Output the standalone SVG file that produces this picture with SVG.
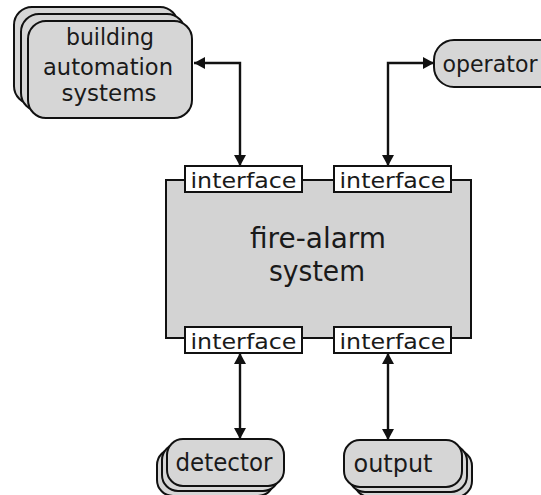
<svg xmlns="http://www.w3.org/2000/svg" width="541" height="495" viewBox="0 0 541 495">
<style>
.sh{fill:#d6d6d6;stroke:#111;stroke-width:2}
.main{fill:#d3d3d3;stroke:#111;stroke-width:2}
.if{fill:#fff;stroke:#111;stroke-width:2}
.t{font-family:"DejaVu Sans",Verdana,sans-serif;fill:#1a1a1a;text-anchor:middle}
.c{fill:none;stroke:#111;stroke-width:2.4}
</style>
<defs>
<marker id="ah" viewBox="0 0 11 12" refX="11" refY="6" markerWidth="11" markerHeight="12" markerUnits="userSpaceOnUse" orient="auto-start-reverse">
<path d="M0,0 L11,6 L0,12 z" fill="#111"/>
</marker>
</defs>
<rect width="541" height="495" fill="#fff"/>
<g id="connectors">
<path class="c" d="M194,63 H240 V166" marker-start="url(#ah)" marker-end="url(#ah)"/>
<path class="c" d="M434,63 H388 V166" marker-start="url(#ah)" marker-end="url(#ah)"/>
<path class="c" d="M240,353 V439" marker-start="url(#ah)" marker-end="url(#ah)"/>
<path class="c" d="M388,353 V440" marker-start="url(#ah)" marker-end="url(#ah)"/>
</g>
<g id="building-automation-systems">
<rect class="sh" x="14" y="7" width="164" height="97" rx="18"/>
<rect class="sh" x="21" y="14" width="164" height="97" rx="18"/>
<rect class="sh" x="28" y="21" width="164" height="97" rx="18"/>
<text class="t" font-size="23" x="110" y="45" textLength="88" lengthAdjust="spacingAndGlyphs">building</text>
<text class="t" font-size="23" x="108" y="75" textLength="130" lengthAdjust="spacingAndGlyphs">automation</text>
<text class="t" font-size="23" x="109" y="101" textLength="95" lengthAdjust="spacingAndGlyphs">systems</text>
</g>
<g id="operator">
<rect class="sh" x="434" y="40" width="130" height="47" rx="20"/>
<text class="t" font-size="23" x="490" y="72" textLength="95" lengthAdjust="spacingAndGlyphs">operator</text>
</g>
<g id="fire-alarm-system">
<rect class="main" x="166" y="180" width="305" height="158"/>
<text class="t" font-size="28" x="318" y="248" textLength="136" lengthAdjust="spacingAndGlyphs">fire-alarm</text>
<text class="t" font-size="28" x="317" y="281" textLength="96" lengthAdjust="spacingAndGlyphs">system</text>
</g>
<g id="interface-top-left">
<rect class="if" x="185" y="166" width="117" height="26"/>
<text class="t" font-size="22" x="243.5" y="188" textLength="106" lengthAdjust="spacingAndGlyphs">interface</text>
</g>
<g id="interface-top-right">
<rect class="if" x="334" y="166" width="117" height="26"/>
<text class="t" font-size="22" x="392.5" y="188" textLength="106" lengthAdjust="spacingAndGlyphs">interface</text>
</g>
<g id="interface-bottom-left">
<rect class="if" x="185" y="327" width="117" height="26"/>
<text class="t" font-size="22" x="243.5" y="349" textLength="106" lengthAdjust="spacingAndGlyphs">interface</text>
</g>
<g id="interface-bottom-right">
<rect class="if" x="334" y="327" width="117" height="26"/>
<text class="t" font-size="22" x="392.5" y="349" textLength="106" lengthAdjust="spacingAndGlyphs">interface</text>
</g>
<g id="detector">
<rect class="sh" x="157" y="449" width="117" height="47" rx="16"/>
<rect class="sh" x="162" y="444" width="117" height="47" rx="16"/>
<rect class="sh" x="167" y="439" width="117" height="47" rx="16"/>
<text class="t" font-size="24" x="224" y="471" textLength="97" lengthAdjust="spacingAndGlyphs">detector</text>
</g>
<g id="output">
<rect class="sh" x="354" y="450" width="118" height="47" rx="16"/>
<rect class="sh" x="349" y="445" width="118" height="47" rx="16"/>
<rect class="sh" x="344" y="440" width="118" height="47" rx="16"/>
<text class="t" font-size="24" x="393" y="472" textLength="79" lengthAdjust="spacingAndGlyphs">output</text>
</g>
</svg>
